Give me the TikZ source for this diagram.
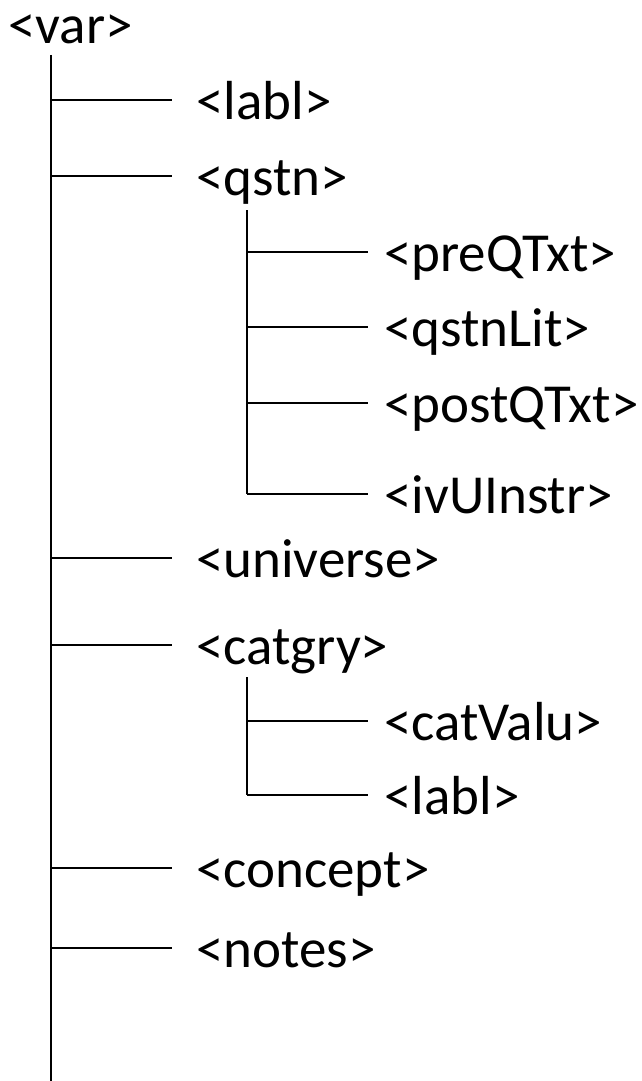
\documentclass[tikz,border=0pt]{standalone}
\usepackage{fontspec}
\setmainfont{Carlito}

\begin{document}
\begin{tikzpicture}[x=1pt,y=-1pt,
  every node/.style={font=\fontsize{55}{66}\selectfont, inner ysep=0pt,
    text height=44pt, text depth=5pt},
  elem/.style={anchor=west, inner xsep=24pt},
  subelem/.style={anchor=west, inner xsep=16pt},
  spine/.style={line width=2.6pt},
  branch/.style={line width=1.8pt},
  twig/.style={line width=1.4pt},
  twigv/.style={line width=1.9pt}]
\useasboundingbox (0,0) rectangle (642,1081);

% root and main spine
\node[anchor=base west, inner xsep=0pt] (var) at (8,44) {<var>};
\coordinate (spine top) at (51,55);
\coordinate (spine end) at (51,1081);
\draw[spine] (spine top) -- (spine end);

% children of <var>
\foreach \nm/\yy/\txt in {labl/100/<labl>, qstn/176/<qstn>, universe/558/<universe>,
    catgry/645/<catgry>, concept/868/<concept>, notes/948/<notes>}
{
  \node[elem] (\nm) at (172,\yy) {\txt};
  \coordinate (s-\nm) at (51,\yy);
  \draw[branch] (s-\nm) -- (\nm.west);
}

% children of <qstn>
\coordinate (qstn top) at (247,210);
\foreach \nm/\yy/\txt in {preQTxt/252/<preQTxt>, qstnLit/327/<qstnLit>,
    postQTxt/403/<postQTxt>, ivUInstr/494/<ivUInstr>}
{
  \node[subelem] (\nm) at (368,\yy) {\txt};
  \coordinate (q-\nm) at (247,\yy);
  \draw[twig] (q-\nm) -- (\nm.west);
}
\draw[twigv] (qstn top) -- (q-ivUInstr);

% children of <catgry>
\coordinate (catgry top) at (247,677);
\foreach \nm/\yy/\txt in {catValu/721/<catValu>, catlabl/795/<labl>}
{
  \node[subelem] (\nm) at (368,\yy) {\txt};
  \coordinate (c-\nm) at (247,\yy);
  \draw[twig] (c-\nm) -- (\nm.west);
}
\draw[twigv] (catgry top) -- (c-catlabl);

\end{tikzpicture}
\end{document}
